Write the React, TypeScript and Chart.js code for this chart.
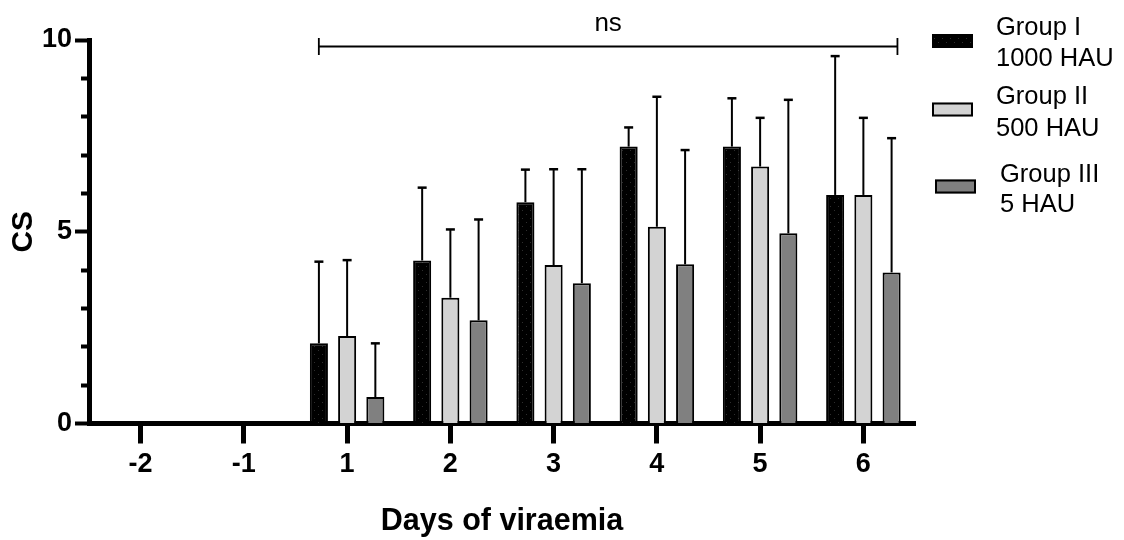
import React, { useEffect, useRef } from 'react';
import { Chart, registerables } from 'chart.js';

Chart.register(...registerables);

const FONT = '"Liberation Sans", Arial, Helvetica, sans-serif';

// ---- data ----
const days = ['-2', '-1', '1', '2', '3', '4', '5', '6'];
const groupLabels = ['Group I\n1000 HAU', 'Group II\n500 HAU', 'Group III\n5 HAU'];
const groupIMean = [0, 0, 2.09, 4.25, 5.77, 7.22, 7.22, 5.96];
const groupIIMean = [0, 0, 2.28, 3.28, 4.13, 5.13, 6.7, 5.96];
const groupIIIMean = [0, 0, 0.69, 2.69, 3.66, 4.15, 4.96, 3.94];
const groupISD = [0, 0, 2.13, 1.9, 0.85, 0.5, 1.26, 3.62];
const groupIISD = [0, 0, 1.98, 1.78, 2.5, 3.39, 1.27, 2.01];
const groupIIISD = [0, 0, 1.4, 2.63, 2.97, 2.98, 3.48, 3.5];
const yTickValues = [0, 5, 10];
const significanceText = 'ns';

const means = [groupIMean, groupIIMean, groupIIIMean];
const sds = [groupISD, groupIISD, groupIIISD];

function makeDotPattern(): CanvasPattern | string {
  const c = document.createElement('canvas');
  c.width = 8;
  c.height = 8;
  const g = c.getContext('2d');
  if (!g) return '#000';
  g.fillStyle = '#000';
  g.fillRect(0, 0, 8, 8);
  g.fillStyle = '#2e2e2e';
  g.fillRect(2, 2, 1, 1);
  g.fillRect(6, 6, 1, 1);
  return g.createPattern(c, 'repeat') || '#000';
}

const errorBarPlugin = {
  id: 'errorBars',
  afterDatasetsDraw(chart: any) {
    const ctx = chart.ctx;
    const ys = chart.scales.y;
    ctx.save();
    ctx.strokeStyle = '#000';
    chart.data.datasets.forEach((_: any, di: number) => {
      const meta = chart.getDatasetMeta(di);
      meta.data.forEach((bar: any, i: number) => {
        const sd = sds[di][i];
        if (!sd) return;
        const top = ys.getPixelForValue(means[di][i] + sd);
        const x = bar.x;
        ctx.lineWidth = 2;
        ctx.beginPath();
        ctx.moveTo(x, bar.y);
        ctx.lineTo(x, top);
        ctx.stroke();
        ctx.lineWidth = 2.5;
        ctx.beginPath();
        ctx.moveTo(x - 4.5, top);
        ctx.lineTo(x + 4.5, top);
        ctx.stroke();
      });
    });
    ctx.restore();
  },
};

const bracketPlugin = {
  id: 'bracket',
  afterDraw(chart: any) {
    const ctx = chart.ctx;
    const xs = chart.scales.x;
    const ys = chart.scales.y;
    const x1 = xs.getPixelForValue(1.726);
    const x2 = xs.getPixelForValue(7.33);
    const y = ys.getPixelForValue(9.83);
    ctx.save();
    ctx.strokeStyle = '#000';
    ctx.lineWidth = 1.8;
    ctx.beginPath();
    ctx.moveTo(x1, y);
    ctx.lineTo(x2, y);
    ctx.moveTo(x1, y - 8.5);
    ctx.lineTo(x1, y + 8.5);
    ctx.moveTo(x2, y - 8.5);
    ctx.lineTo(x2, y + 8.5);
    ctx.stroke();
    ctx.fillStyle = '#000';
    ctx.font = `26px ${FONT}`;
    ctx.textAlign = 'center';
    ctx.textBaseline = 'alphabetic';
    ctx.fillText(significanceText, (x1 + x2) / 2, 31);
    ctx.restore();
  },
};

const legendPlugin = {
  id: 'customLegend',
  afterDraw(chart: any) {
    const ctx = chart.ctx;
    const left = chart.chartArea.right + 17;
    const boxDx = [0, 0, 3];
    const boxTop = [34, 102.5, 179.5];
    const textDx = [64, 64, 68];
    const baselines = [
      [34.5, 66],
      [104, 135.5],
      [181.5, 212],
    ];
    ctx.save();
    chart.data.datasets.forEach((ds: any, i: number) => {
      const bx = left + boxDx[i];
      const by = boxTop[i];
      ctx.fillStyle = ds.backgroundColor;
      ctx.fillRect(bx, by, 41, 14);
      ctx.strokeStyle = '#000';
      ctx.lineWidth = 2;
      ctx.strokeRect(bx + 1, by + 1, 39, 12);
      ctx.fillStyle = '#000';
      ctx.font = `25.5px ${FONT}`;
      ctx.textAlign = 'left';
      ctx.textBaseline = 'alphabetic';
      const lines = String(ds.label).split('\n');
      lines.forEach((ln: string, li: number) => {
        ctx.fillText(ln, left + textDx[i], baselines[i][li]);
      });
    });
    ctx.restore();
  },
};

export default function App() {
  const canvasRef = useRef<HTMLCanvasElement | null>(null);

  useEffect(() => {
    if (!canvasRef.current) return;
    const pattern = makeDotPattern();
    const common = {
      borderColor: '#000',
      borderWidth: 2,
      barPercentage: 0.64,
      categoryPercentage: 0.82,
    };
    const chart = new Chart(canvasRef.current, {
      type: 'bar',
      data: {
        labels: days,
        datasets: [
          { label: groupLabels[0], data: groupIMean, backgroundColor: pattern, ...common },
          { label: groupLabels[1], data: groupIIMean, backgroundColor: '#d3d3d3', ...common },
          { label: groupLabels[2], data: groupIIIMean, backgroundColor: '#808080', ...common },
        ],
      },
      options: {
        animation: false,
        responsive: true,
        maintainAspectRatio: false,
        layout: { padding: { left: 0, right: 209, top: 40, bottom: 0 } },
        plugins: {
          legend: { display: false },
          tooltip: { enabled: false },
        },
        scales: {
          x: {
            type: 'category',
            grid: {
              display: true,
              drawOnChartArea: false,
              offset: false,
              tickLength: 20,
              tickWidth: 5,
              tickColor: '#000',
            },
            border: { display: true, color: '#000', width: 5 },
            ticks: {
              color: '#000',
              font: { family: FONT, size: 27, weight: 'bold' },
              padding: 5,
              maxRotation: 0,
              autoSkip: false,
            },
            title: {
              display: true,
              text: 'Days of viraemia',
              color: '#000',
              font: { family: FONT, size: 30.5, weight: 'bold' },
              padding: { top: 0, bottom: 0 },
            },
            afterFit: (s: any) => {
              s.height = 116.5;
            },
          },
          y: {
            min: 0,
            max: 10,
            grid: {
              display: true,
              drawOnChartArea: false,
              tickLength: 14,
              tickWidth: 4,
              tickColor: '#000',
              tickBorderDash: (c: any) =>
                c.tick && yTickValues.includes(c.tick.value) ? [] : [0, 6, 40],
            },
            border: { display: true, color: '#000', width: 5 },
            ticks: {
              stepSize: 1,
              color: '#000',
              font: { family: FONT, size: 27, weight: 'bold' },
              padding: 3,
              callback: (v: any) => (yTickValues.includes(Number(v)) ? String(v) : ''),
            },
            title: {
              display: true,
              text: 'CS',
              color: '#000',
              font: { family: FONT, size: 30, weight: 'bold' },
              padding: { top: 6, bottom: 0 },
            },
            afterFit: (s: any) => {
              s.width = 89;
            },
          },
        },
      } as any,
      plugins: [errorBarPlugin, bracketPlugin, legendPlugin],
    });
    return () => chart.destroy();
  }, []);

  return (
    <div
      style={{
        position: 'fixed',
        left: 0,
        top: 0,
        width: 1124,
        height: 540,
        background: '#fff',
      }}
    >
      <canvas ref={canvasRef} />
    </div>
  );
}
